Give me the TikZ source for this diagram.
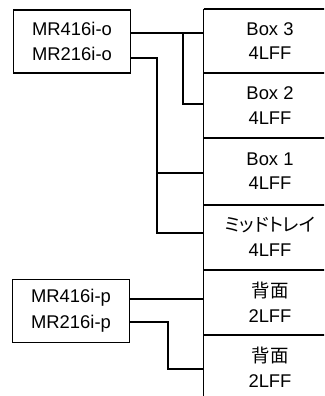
\documentclass[tikz,border=0pt]{standalone}
\usepackage{fontspec}
\setmainfont{Liberation Sans}
\newfontfamily\cjk[RawFeature=+palt]{Noto Sans CJK JP}
\begin{document}
\begin{tikzpicture}[x=1pt,y=-1pt,
  lbox/.style={draw,line width=1.3pt,minimum width=117pt,minimum height=63pt,inner sep=0pt,align=center,font=\fontsize{18.4}{25.6}\selectfont},
  rbox/.style={minimum width=134pt,minimum height=65pt,inner sep=0pt,align=center,font=\fontsize{18.4}{24.5}\selectfont},
  conn/.style={line width=2pt},
  sep/.style={line width=2pt},
  edge/.style={line width=1pt}]
\useasboundingbox (0,0) rectangle (324,396);
\clip (0,0) rectangle (324,396);
% right column boxes
\node[rbox] (b3) at (270,41) {Box 3\\4LFF};
\node[rbox] (b2) at (270,105.5) {Box 2\\4LFF};
\node[rbox] (b1) at (270,171) {Box 1\\4LFF};
\node[rbox] (mt) at (270,237) {{\cjk ミッドトレイ}\\4LFF};
\node[rbox] (k1) at (270,302.5) {{\cjk 背面}\\2LFF};
\node[rbox] (k2) at (270,367.5) {{\cjk 背面}\\2LFF};
% column borders
\draw[edge] (203.5,9) -- (203.5,400);
\draw[sep] (203.5,9) -- (340,9);
\draw[sep] (203.5,73.3) -- (340,73.3);
\draw[sep] (203.5,138.3) -- (340,138.3);
\draw[sep] (203.5,204.5) -- (340,204.5);
\draw[sep] (203.5,270) -- (340,270);
\draw[sep] (203.5,335) -- (340,335);
% left boxes
\node[lbox] (o) at (72,41.5) {MR416i-o\\MR216i-o};
\node[lbox] (p) at (71,311) {MR416i-p\\MR216i-p};
\coordinate (o1) at (o.east |- 0,32.7);
\coordinate (o2) at (o.east |- 0,58.3);
\coordinate (p1) at (p.east |- 0,299);
\coordinate (p2) at (p.east |- 0,322.3);
\coordinate (ta) at (b3.west |- 0,32.7);
\coordinate (tb) at (b2.west |- 0,104);
\coordinate (tc) at (b1.west |- 0,173);
\coordinate (td) at (mt.west |- 0,233.3);
\coordinate (te) at (k1.west |- 0,299);
\coordinate (tf) at (k2.west |- 0,369.3);
% connectors
\draw[conn] (o1) -- (ta);
\draw[conn] (182.7,32.7) |- (tb);
\draw[conn] (o2) -| (156.7,233.3) -- (td);
\draw[conn] (156.7,173) -- (tc);
\draw[conn] (p1) -- (te);
\draw[conn] (p2) -| (168.3,369.3) -- (tf);
\end{tikzpicture}
\end{document}
